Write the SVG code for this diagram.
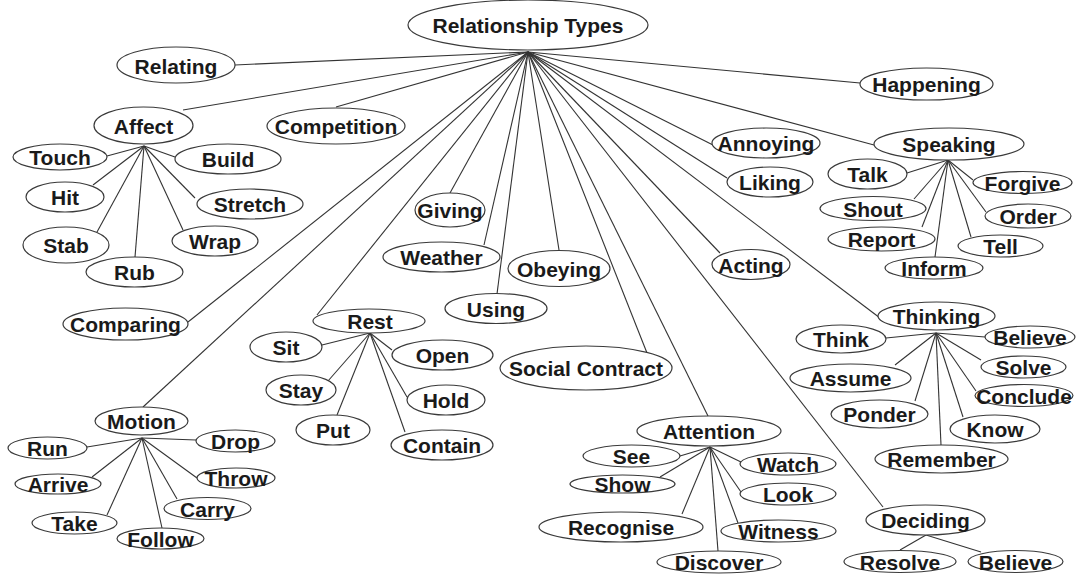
<svg xmlns="http://www.w3.org/2000/svg" width="1078" height="575" viewBox="0 0 1078 575">
<style>
.c line{stroke:#333;stroke-width:1.1}
.n ellipse{fill:#fff;stroke:#3a3a3a;stroke-width:1.2}
.n text{font-family:"Liberation Sans",Arial,sans-serif;font-weight:bold;font-size:21px;text-anchor:middle;fill:#1a1a1a}
</style>
<rect width="1078" height="575" fill="#fff"/>
<g id="connectors" class="c">
<line x1="528" y1="52" x2="235" y2="65"/>
<line x1="528" y1="52" x2="183" y2="110"/>
<line x1="528" y1="52" x2="336" y2="107"/>
<line x1="528" y1="52" x2="860" y2="83"/>
<line x1="528" y1="52" x2="713" y2="145"/>
<line x1="528" y1="52" x2="727" y2="178"/>
<line x1="528" y1="52" x2="874" y2="145"/>
<line x1="528" y1="52" x2="720" y2="253"/>
<line x1="528" y1="52" x2="880" y2="318"/>
<line x1="528" y1="52" x2="883" y2="507"/>
<line x1="528" y1="52" x2="708" y2="416"/>
<line x1="528" y1="52" x2="647" y2="353"/>
<line x1="528" y1="52" x2="559" y2="250"/>
<line x1="528" y1="52" x2="497" y2="294"/>
<line x1="528" y1="52" x2="484" y2="245"/>
<line x1="528" y1="52" x2="450" y2="193"/>
<line x1="528" y1="52" x2="317" y2="315"/>
<line x1="528" y1="52" x2="143" y2="407"/>
<line x1="528" y1="52" x2="188" y2="322"/>
<line x1="144" y1="146" x2="107" y2="156"/>
<line x1="144" y1="146" x2="175" y2="157"/>
<line x1="144" y1="146" x2="93" y2="185"/>
<line x1="144" y1="146" x2="195" y2="198"/>
<line x1="144" y1="146" x2="97" y2="232"/>
<line x1="144" y1="146" x2="135" y2="257"/>
<line x1="144" y1="146" x2="183" y2="230"/>
<line x1="370" y1="333" x2="322" y2="345"/>
<line x1="370" y1="333" x2="392" y2="350"/>
<line x1="370" y1="333" x2="328" y2="381"/>
<line x1="370" y1="333" x2="337" y2="415"/>
<line x1="370" y1="333" x2="407" y2="397"/>
<line x1="370" y1="333" x2="405" y2="432"/>
<line x1="948" y1="160" x2="907" y2="173"/>
<line x1="948" y1="160" x2="973" y2="180"/>
<line x1="948" y1="160" x2="914" y2="199"/>
<line x1="948" y1="160" x2="922" y2="227"/>
<line x1="948" y1="160" x2="935" y2="257"/>
<line x1="948" y1="160" x2="971" y2="237"/>
<line x1="948" y1="160" x2="986" y2="212"/>
<line x1="936" y1="333" x2="886" y2="338"/>
<line x1="936" y1="333" x2="985" y2="337"/>
<line x1="936" y1="333" x2="981" y2="360"/>
<line x1="936" y1="333" x2="895" y2="365"/>
<line x1="936" y1="333" x2="976" y2="391"/>
<line x1="936" y1="333" x2="915" y2="401"/>
<line x1="936" y1="333" x2="963" y2="417"/>
<line x1="936" y1="333" x2="941" y2="445"/>
<line x1="926" y1="535" x2="900" y2="550"/>
<line x1="926" y1="535" x2="981" y2="552"/>
<line x1="710" y1="447" x2="680" y2="456"/>
<line x1="710" y1="447" x2="660" y2="477"/>
<line x1="710" y1="447" x2="682" y2="514"/>
<line x1="710" y1="447" x2="718" y2="551"/>
<line x1="710" y1="447" x2="741" y2="462"/>
<line x1="710" y1="447" x2="741" y2="492"/>
<line x1="710" y1="447" x2="738" y2="523"/>
<line x1="142" y1="438" x2="87" y2="447"/>
<line x1="142" y1="438" x2="196" y2="440"/>
<line x1="142" y1="438" x2="92" y2="477"/>
<line x1="142" y1="438" x2="197" y2="478"/>
<line x1="142" y1="438" x2="177" y2="499"/>
<line x1="142" y1="438" x2="107" y2="515"/>
<line x1="142" y1="438" x2="162" y2="528"/>
</g>
<g id="root" class="n"><ellipse cx="528" cy="25" rx="120" ry="25"/><text x="528" y="33">Relationship Types</text></g>
<g id="relating" class="n"><ellipse cx="176" cy="65" rx="59" ry="18"/><text x="176" y="74">Relating</text></g>
<g id="affect" class="n"><ellipse cx="143.5" cy="125.5" rx="49.5" ry="18.5"/><text x="143.5" y="134">Affect</text></g>
<g id="competition" class="n"><ellipse cx="336" cy="126" rx="69" ry="18"/><text x="336" y="134">Competition</text></g>
<g id="happening" class="n"><ellipse cx="926.5" cy="84" rx="66.5" ry="16"/><text x="926.5" y="92">Happening</text></g>
<g id="annoying" class="n"><ellipse cx="766" cy="143" rx="54" ry="15"/><text x="766" y="151">Annoying</text></g>
<g id="liking" class="n"><ellipse cx="770" cy="182" rx="43" ry="15"/><text x="770" y="190">Liking</text></g>
<g id="speaking" class="n"><ellipse cx="949" cy="144" rx="75" ry="16"/><text x="949" y="152">Speaking</text></g>
<g id="touch" class="n"><ellipse cx="60" cy="157" rx="47" ry="13"/><text x="60" y="165">Touch</text></g>
<g id="build" class="n"><ellipse cx="228" cy="159" rx="53" ry="15"/><text x="228" y="167">Build</text></g>
<g id="hit" class="n"><ellipse cx="65" cy="197" rx="39" ry="15"/><text x="65" y="205">Hit</text></g>
<g id="stretch" class="n"><ellipse cx="250" cy="204" rx="53" ry="15"/><text x="250" y="212">Stretch</text></g>
<g id="stab" class="n"><ellipse cx="66" cy="245" rx="43" ry="18"/><text x="66" y="253">Stab</text></g>
<g id="wrap" class="n"><ellipse cx="215" cy="241" rx="43" ry="15"/><text x="215" y="249">Wrap</text></g>
<g id="rub" class="n"><ellipse cx="134.5" cy="272" rx="48.5" ry="15"/><text x="134.5" y="280">Rub</text></g>
<g id="comparing" class="n"><ellipse cx="125.5" cy="324" rx="62.5" ry="16"/><text x="125.5" y="332">Comparing</text></g>
<g id="giving" class="n"><ellipse cx="450" cy="210" rx="35" ry="17"/><text x="450" y="218">Giving</text></g>
<g id="weather" class="n"><ellipse cx="441.5" cy="257" rx="58.5" ry="15"/><text x="441.5" y="265">Weather</text></g>
<g id="obeying" class="n"><ellipse cx="559" cy="268.5" rx="51" ry="18"/><text x="559" y="277">Obeying</text></g>
<g id="using" class="n"><ellipse cx="496" cy="308.5" rx="51" ry="15"/><text x="496" y="317">Using</text></g>
<g id="rest" class="n"><ellipse cx="369" cy="321" rx="56" ry="12"/><text x="370" y="329">Rest</text></g>
<g id="sit" class="n"><ellipse cx="286" cy="347" rx="36" ry="15"/><text x="286" y="355">Sit</text></g>
<g id="open" class="n"><ellipse cx="442.5" cy="355" rx="50.5" ry="15"/><text x="442.5" y="363">Open</text></g>
<g id="stay" class="n"><ellipse cx="301" cy="390" rx="35" ry="15"/><text x="301" y="398">Stay</text></g>
<g id="put" class="n"><ellipse cx="333" cy="430" rx="37" ry="15"/><text x="333" y="438">Put</text></g>
<g id="hold" class="n"><ellipse cx="446" cy="400" rx="39" ry="15"/><text x="446" y="408">Hold</text></g>
<g id="contain" class="n"><ellipse cx="442" cy="445" rx="51" ry="15"/><text x="442" y="453">Contain</text></g>
<g id="social-contract" class="n"><ellipse cx="586" cy="368" rx="86" ry="22"/><text x="586" y="376">Social Contract</text></g>
<g id="acting" class="n"><ellipse cx="751" cy="264.5" rx="39" ry="15"/><text x="751" y="273">Acting</text></g>
<g id="talk" class="n"><ellipse cx="867.5" cy="174" rx="39.5" ry="15"/><text x="867.5" y="182">Talk</text></g>
<g id="forgive" class="n"><ellipse cx="1022.5" cy="182.5" rx="49.5" ry="11"/><text x="1022.5" y="191">Forgive</text></g>
<g id="shout" class="n"><ellipse cx="873" cy="208.5" rx="53" ry="12"/><text x="873" y="217">Shout</text></g>
<g id="order" class="n"><ellipse cx="1028" cy="216" rx="43" ry="12"/><text x="1028" y="224">Order</text></g>
<g id="report" class="n"><ellipse cx="881.5" cy="239" rx="53.5" ry="12"/><text x="881.5" y="247">Report</text></g>
<g id="tell" class="n"><ellipse cx="1000.5" cy="246" rx="42.5" ry="11"/><text x="1000.5" y="254">Tell</text></g>
<g id="inform" class="n"><ellipse cx="934" cy="268" rx="49" ry="11"/><text x="934" y="276">Inform</text></g>
<g id="thinking" class="n"><ellipse cx="936.5" cy="316" rx="58.5" ry="14"/><text x="936.5" y="324">Thinking</text></g>
<g id="think" class="n"><ellipse cx="841" cy="339" rx="45" ry="14"/><text x="841" y="347">Think</text></g>
<g id="believe-thinking" class="n"><ellipse cx="1030" cy="337" rx="45" ry="11"/><text x="1030" y="345">Believe</text></g>
<g id="solve" class="n"><ellipse cx="1023.5" cy="367" rx="42.5" ry="11"/><text x="1023.5" y="375">Solve</text></g>
<g id="assume" class="n"><ellipse cx="850.5" cy="378" rx="60.5" ry="14"/><text x="850.5" y="386">Assume</text></g>
<g id="conclude" class="n"><ellipse cx="1024" cy="395.5" rx="49" ry="11"/><text x="1024" y="404">Conclude</text></g>
<g id="ponder" class="n"><ellipse cx="879.5" cy="414" rx="48.5" ry="14"/><text x="879.5" y="422">Ponder</text></g>
<g id="know" class="n"><ellipse cx="995" cy="429" rx="45" ry="14"/><text x="995" y="437">Know</text></g>
<g id="remember" class="n"><ellipse cx="941.5" cy="459" rx="66.5" ry="14"/><text x="941.5" y="467">Remember</text></g>
<g id="deciding" class="n"><ellipse cx="925.5" cy="520" rx="59.5" ry="15"/><text x="925.5" y="528">Deciding</text></g>
<g id="resolve" class="n"><ellipse cx="900" cy="561.5" rx="56" ry="11"/><text x="900" y="570">Resolve</text></g>
<g id="believe-deciding" class="n"><ellipse cx="1015.5" cy="561.5" rx="47.5" ry="11"/><text x="1015.5" y="570">Believe</text></g>
<g id="attention" class="n"><ellipse cx="709" cy="431" rx="72" ry="15"/><text x="709" y="439">Attention</text></g>
<g id="see" class="n"><ellipse cx="631.5" cy="456" rx="48.5" ry="11"/><text x="631.5" y="464">See</text></g>
<g id="show" class="n"><ellipse cx="622.5" cy="484" rx="52.5" ry="9"/><text x="622.5" y="492">Show</text></g>
<g id="recognise" class="n"><ellipse cx="621" cy="527" rx="82" ry="15"/><text x="621" y="535">Recognise</text></g>
<g id="discover" class="n"><ellipse cx="719" cy="562" rx="62" ry="11"/><text x="719" y="570">Discover</text></g>
<g id="watch" class="n"><ellipse cx="788" cy="464" rx="48" ry="11"/><text x="788" y="472">Watch</text></g>
<g id="look" class="n"><ellipse cx="788" cy="494" rx="48" ry="11"/><text x="788" y="502">Look</text></g>
<g id="witness" class="n"><ellipse cx="778.5" cy="531" rx="57.5" ry="11"/><text x="778.5" y="539">Witness</text></g>
<g id="motion" class="n"><ellipse cx="141.5" cy="421" rx="46.5" ry="14"/><text x="141.5" y="429">Motion</text></g>
<g id="run" class="n"><ellipse cx="47.5" cy="448" rx="39.5" ry="11"/><text x="47.5" y="456">Run</text></g>
<g id="drop" class="n"><ellipse cx="235.5" cy="441" rx="39.5" ry="11"/><text x="235.5" y="449">Drop</text></g>
<g id="arrive" class="n"><ellipse cx="58" cy="484" rx="43" ry="10"/><text x="58" y="492">Arrive</text></g>
<g id="throw" class="n"><ellipse cx="236" cy="478" rx="39" ry="10"/><text x="236" y="486">Throw</text></g>
<g id="carry" class="n"><ellipse cx="207.5" cy="508.5" rx="43.5" ry="11"/><text x="207.5" y="517">Carry</text></g>
<g id="take" class="n"><ellipse cx="74.5" cy="523" rx="42.5" ry="11"/><text x="74.5" y="531">Take</text></g>
<g id="follow" class="n"><ellipse cx="160.5" cy="538.5" rx="43.5" ry="10.5"/><text x="160.5" y="547">Follow</text></g>
</svg>
